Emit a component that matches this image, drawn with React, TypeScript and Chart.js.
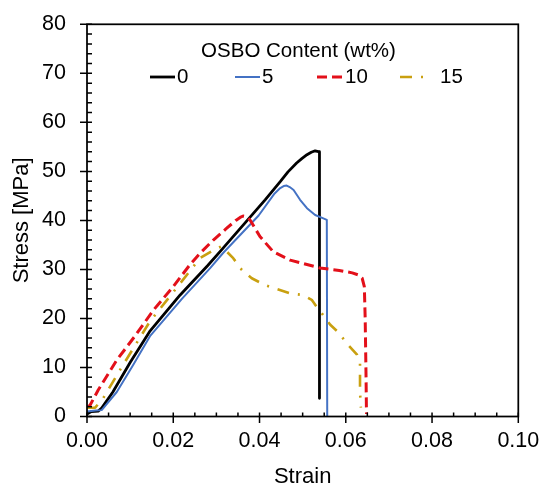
import React, { useEffect, useRef } from "react";
import { Chart, registerables } from "chart.js";

Chart.register(...registerables);

// ---- Data (strain, stress [MPa]) ----
const seriesLabels = ["0", "5", "10", "15"];

const strain0 = [0, 0.001, 0.0026, 0.0034, 0.006, 0.01, 0.0145, 0.0216, 0.028, 0.0312, 0.0413, 0.0448, 0.0466, 0.0486, 0.0498, 0.051, 0.052, 0.0529, 0.0539, 0.0539];
const stress0 = [0.5, 1.0, 1.1, 1.7, 5.0, 11.0, 17.3, 24.8, 30.8, 34.0, 44.2, 47.9, 49.9, 51.7, 52.6, 53.4, 53.9, 54.2, 54.0, 3.7];

const strain5 = [0, 0.002, 0.0034, 0.0069, 0.0107, 0.0147, 0.022, 0.0285, 0.0315, 0.0398, 0.0435, 0.0448, 0.0456, 0.0463, 0.047, 0.0479, 0.0494, 0.051, 0.0529, 0.0548, 0.0556, 0.0557];
const stress5 = [1.0, 1.2, 1.3, 5.0, 10.5, 16.5, 24.0, 30.2, 33.3, 41.0, 45.5, 46.6, 47.0, 47.1, 46.8, 46.2, 44.2, 42.5, 41.1, 40.4, 40.1, 0];

const strain10 = [0, 0.0007, 0.0026, 0.0069, 0.0112, 0.0154, 0.02, 0.0239, 0.0262, 0.0293, 0.0324, 0.0345, 0.0355, 0.0362, 0.0368, 0.0378, 0.0401, 0.0432, 0.0471, 0.054, 0.0585, 0.0615, 0.0628, 0.0638, 0.0643, 0.0645, 0.0647, 0.0648];
const stress10 = [1.8, 2.3, 5.4, 11.5, 16.5, 21.7, 26.5, 31.0, 33.3, 36.0, 38.4, 40.0, 40.6, 40.9, 40.8, 40.1, 36.7, 33.6, 31.9, 30.3, 29.8, 29.3, 28.9, 28.2, 26.5, 20.0, 8.0, 0.5];

const strain15 = [0, 0.0019, 0.0038, 0.008, 0.0146, 0.0212, 0.0262, 0.0295, 0.0312, 0.0339, 0.0359, 0.0382, 0.0413, 0.044, 0.0471, 0.05, 0.0521, 0.0533, 0.0544, 0.0564, 0.0585, 0.0602, 0.0626, 0.0633, 0.0633, 0.0635];
const stress15 = [1.8, 1.8, 3.8, 10.0, 19.4, 26.7, 32.3, 34.0, 34.7, 32.3, 29.9, 28.2, 26.8, 26.0, 25.1, 24.8, 23.8, 22.3, 21.1, 18.7, 17.0, 14.9, 12.6, 10.9, 5.0, 1.8];

const xMin = 0, xMax = 0.1, xStep = 0.02, xMinorStep = 0.005;
const yMin = 0, yMax = 80, yStep = 10, yMinorStep = 2;

const legendTitle = "OSBO Content (wt%)";
const xTitle = "Strain";
const yTitle = "Stress [MPa]";

const FONT = "'Liberation Sans', Arial, sans-serif";

const colors = ["#000000", "#4472C4", "#E3101A", "#C9A010"];
const widths = [2.8, 2.0, 3.0, 2.6];
const dashes: number[][] = [[], [], [10, 5], [12, 9, 2, 9]];

function pts(xs: number[], ys: number[]) {
  return xs.map((x, i) => ({ x, y: ys[i] }));
}

const framePlugin = {
  id: "frame",
  afterDraw(chart: any) {
    const { ctx, chartArea, scales } = chart;
    const { left, top, right, bottom } = chartArea;
    const x = scales.x, y = scales.y;
    ctx.save();
    ctx.strokeStyle = "#000";
    ctx.lineWidth = 1.75;
    ctx.setLineDash([]);
    ctx.strokeRect(left, top, right - left, bottom - top);
    ctx.lineWidth = 1.5;
    ctx.beginPath();
    const nY = Math.round((yMax - yMin) / yMinorStep);
    for (let i = 0; i <= nY; i++) {
      const v = yMin + i * yMinorStep;
      const py = y.getPixelForValue(v);
      const major = i % Math.round(yStep / yMinorStep) === 0;
      ctx.moveTo(major ? left - 7 : left, py);
      ctx.lineTo(left + 5, py);
    }
    const nX = Math.round((xMax - xMin) / xMinorStep);
    for (let i = 0; i <= nX; i++) {
      const v = xMin + i * xMinorStep;
      const px = x.getPixelForValue(v);
      const major = i % Math.round(xStep / xMinorStep) === 0;
      ctx.moveTo(px, major ? bottom + 6.5 : bottom);
      ctx.lineTo(px, bottom - 4);
    }
    ctx.stroke();
    ctx.restore();
  },
};

const legendPlugin = {
  id: "customLegend",
  afterDraw(chart: any) {
    const { ctx } = chart;
    ctx.save();
    ctx.fillStyle = "#000";
    ctx.font = `20.5px ${FONT}`;
    ctx.textAlign = "center";
    ctx.textBaseline = "middle";
    ctx.fillText(legendTitle, 298.5, 51);
    const rowY = 77;
    const items = [
      { x0: 150, x1: 175, tx: 177 },
      { x0: 235, x1: 260, tx: 262 },
      { x0: 317, x1: 343, tx: 345 },
      { x0: 400, x1: 425, tx: 440 },
    ];
    items.forEach((it, i) => {
      ctx.strokeStyle = colors[i];
      ctx.lineWidth = widths[i];
      ctx.setLineDash(dashes[i]);
      ctx.beginPath();
      ctx.moveTo(it.x0, rowY);
      ctx.lineTo(it.x1, rowY);
      ctx.stroke();
      ctx.setLineDash([]);
      ctx.textAlign = "left";
      ctx.fillText(seriesLabels[i], it.tx, rowY);
    });
    ctx.restore();
  },
};

export default function App() {
  const ref = useRef<HTMLCanvasElement>(null);
  useEffect(() => {
    const canvas = ref.current!;
    const series = [
      pts(strain0, stress0),
      pts(strain5, stress5),
      pts(strain10, stress10),
      pts(strain15, stress15),
    ];
    const chart = new Chart(canvas, {
      type: "scatter",
      data: {
        datasets: series.map((d, i) => ({
          label: seriesLabels[i],
          data: d,
          showLine: true,
          borderColor: colors[i],
          backgroundColor: colors[i],
          borderWidth: widths[i],
          borderDash: dashes[i],
          borderJoinStyle: "round",
          pointRadius: 0,
          pointHoverRadius: 0,
          tension: 0,
          fill: false,
        })).reverse(),
      },
      options: {
        responsive: false,
        animation: false,
        devicePixelRatio: 1,
        layout: { padding: { left: 0, top: 24.3, right: 22.7, bottom: 0 } },
        plugins: {
          legend: { display: false },
          tooltip: { enabled: false },
        },
        scales: {
          x: {
            type: "linear",
            min: xMin,
            max: xMax,
            afterFit: (s: any) => { s.height = 69.5; s.paddingLeft = 0; s.paddingRight = 0; },
            grid: { display: false, drawTicks: false },
            border: { display: false },
            ticks: {
              stepSize: xStep,
              padding: 11.5,
              color: "#000",
              maxRotation: 0,
              font: { family: FONT, size: 21.5 },
              callback: (v: any) => Number(v).toFixed(2),
            },
            title: {
              display: true,
              text: xTitle,
              color: "#000",
              font: { family: FONT, size: 22 },
              padding: { top: 0, bottom: -4.2 },
            },
          },
          y: {
            type: "linear",
            min: yMin,
            max: yMax,
            afterFit: (s: any) => { s.width = 87; s.paddingTop = 0; s.paddingBottom = 0; },
            grid: { display: false, drawTicks: false },
            border: { display: false },
            ticks: {
              stepSize: yStep,
              padding: 21,
              color: "#000",
              font: { family: FONT, size: 21.5 },
            },
            title: {
              display: true,
              text: yTitle,
              color: "#000",
              font: { family: FONT, size: 22 },
              padding: { top: 9, bottom: 0 },
            },
          },
        },
      },
      plugins: [framePlugin, legendPlugin],
    } as any);
    return () => chart.destroy();
  }, []);
  return (
    <div style={{ position: "absolute", left: 0, top: 0, width: 541, height: 486, background: "#fff" }}>
      <canvas ref={ref} width={541} height={486} style={{ display: "block", width: 541, height: 486 }} />
    </div>
  );
}
